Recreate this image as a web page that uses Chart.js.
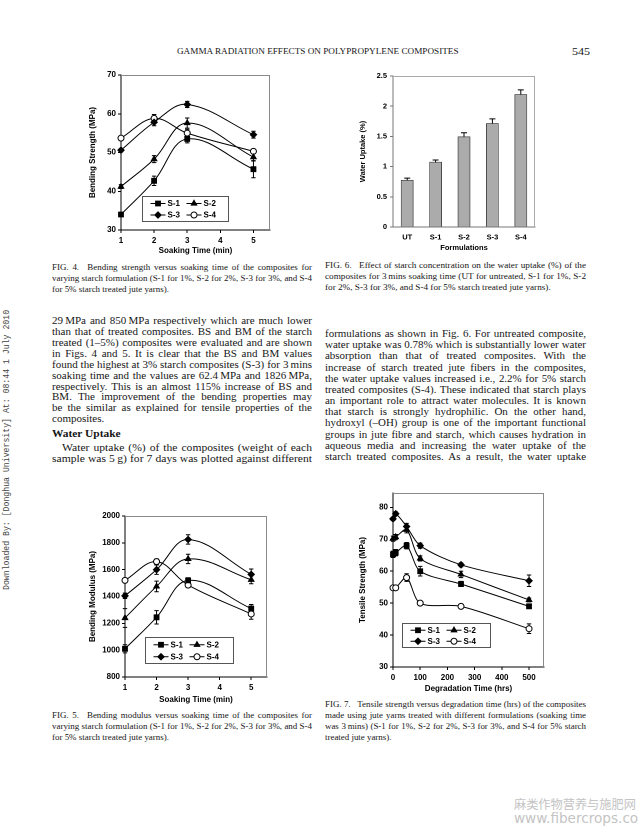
<!DOCTYPE html>
<html><head><meta charset="utf-8">
<script src="https://cdn.jsdelivr.net/npm/chart.js@4.4.0/dist/chart.umd.min.js"></script>
<style>
html,body{margin:0;padding:0;background:#fff;}
body{width:639px;height:828px;position:relative;overflow:hidden;color:#161616;font-family:"Liberation Serif","Times New Roman",serif;}
canvas{position:absolute;}
.abs{position:absolute;white-space:nowrap;}
</style></head><body>
<script>
// ---------------- DATA ----------------
const seriesNames = ['S-1', 'S-2', 'S-3', 'S-4'];
const soakTimes = [1, 2, 3, 5];
// Fig. 4 bending strength (MPa)
const bsS1 = [34.0, 42.7, 53.5, 45.7], bsS1Err = [0.5, 1.2, 1.0, 2.2];
const bsS2 = [41.2, 48.3, 57.6, 48.8], bsS2Err = [0.5, 0.9, 1.3, 1.0];
const bsS3 = [50.6, 57.8, 62.4, 54.6], bsS3Err = [0.4, 0.9, 0.8, 0.9];
const bsS4 = [53.7, 58.8, 55.0, 50.3], bsS4Err = [0.4, 1.0, 1.0, 0.6];
// Fig. 5 bending modulus (MPa)
const bmS1 = [1010, 1245, 1520, 1310], bmS1Err = [30, 50, 20, 30];
const bmS2 = [1240, 1475, 1680, 1525], bmS2Err = [70, 40, 35, 30];
const bmS3 = [1405, 1600, 1825, 1565], bmS3Err = [20, 35, 35, 40];
const bmS4 = [1520, 1660, 1485, 1270], bmS4Err = [10, 20, 15, 40];
// Fig. 6 water uptake (%)
const formulations = ['UT', 'S-1', 'S-2', 'S-3', 'S-4'];
const waterUptake = [0.78, 1.08, 1.50, 1.72, 2.20];
const waterUptakeErr = [0.03, 0.03, 0.06, 0.07, 0.07];
// Fig. 7 tensile strength (MPa)
const degTimes = [0, 10, 50, 100, 250, 500];
const tsS1 = [65.3, 65.8, 68.0, 60.0, 56.0, 49.0], tsS1Err = [1.0, 1.0, 1.0, 1.5, 0.8, 0.5];
const tsS2 = [70.2, 70.7, 73.0, 64.0, 59.0, 51.0], tsS2Err = [0.8, 0.8, 1.0, 0.8, 1.0, 0.6];
const tsS3 = [76.4, 78.0, 74.0, 68.0, 62.0, 57.0], tsS3Err = [0.5, 0.6, 1.0, 0.8, 0.6, 1.8];
const tsS4 = [54.8, 54.8, 58.0, 50.0, 49.0, 42.0], tsS4Err = [0.5, 0.5, 1.2, 0.6, 0.5, 1.5];
// tick values
const bsTicks = [30, 40, 50, 60, 70];
const bmTicks = [800, 1000, 1200, 1400, 1600, 1800, 2000];
const soakTicks = [1, 2, 3, 4, 5];
const wuTicks = [0, 0.5, 1, 1.5, 2, 2.5];
const tsTicks = [30, 40, 50, 60, 70, 80];
const degTicks = [0, 100, 200, 300, 400, 500];

// ---------------- TEXT ----------------
const SERIF = '"Liberation Serif","Times New Roman",serif';
const mctx = document.createElement('canvas').getContext('2d');
function textW(t, size, weight) { mctx.font = (weight || 'normal') + ' ' + size + 'px ' + SERIF; return mctx.measureText(t).width; }

// lines are set at a fixed glyph height and stretched horizontally to the column (scanned page aspect)
function placeLines(lines, o) {
  const size = o.size;
  let maxRatio = 0;
  lines.forEach((l, i) => {
    if (o.lastLeft && i === lines.length - 1) return;
    const ind = (i === 0 && o.indent ? o.indent : 0);
    maxRatio = Math.max(maxRatio, textW(l, size, o.weight) / (o.width - ind));
  });
  const sx = 1 / maxRatio * 0.995;
  lines.forEach((l, i) => {
    const ind = (i === 0 && o.indent) ? o.indent : 0;
    const d = document.createElement('div');
    d.textContent = l;
    const lh = size * 1.2;
    const last = o.lastLeft && i === lines.length - 1;
    d.style.cssText = 'position:absolute;left:' + (o.x + ind) + 'px;top:' + (o.y0 + i * o.dy - lh / 2) + 'px;width:' + ((o.width - ind) / sx) + 'px;font-size:' + size + 'px;line-height:' + lh + 'px;font-weight:' + (o.weight || 'normal') + ';text-align:justify;text-align-last:' + (last ? 'left' : 'justify') + ';transform-origin:0 50%;transform:scaleX(' + sx + ');';
    document.body.appendChild(d);
  });
}
function placeText(t, x, y, size, opts) {
  opts = opts || {};
  const d = document.createElement('div');
  d.className = 'abs';
  d.textContent = t;
  const lh = size * 1.2;
  d.style.left = x + 'px'; d.style.top = (y - lh / 2) + 'px';
  d.style.fontSize = size + 'px'; d.style.lineHeight = lh + 'px';
  if (opts.weight) d.style.fontWeight = opts.weight;
  if (opts.family) d.style.fontFamily = opts.family;
  if (opts.color) d.style.color = opts.color;
  if (opts.sx) { d.style.transformOrigin = '0 50%'; d.style.transform = 'scaleX(' + opts.sx + ')'; }
  document.body.appendChild(d);
  return d;
}

// header
(function () {
  const t = 'GAMMA RADIATION EFFECTS ON POLYPROPYLENE COMPOSITES';
  placeText(t, 177, 51.5, 8.6, {sx: 282 / textW(t, 8.6)});
  placeText('545', 572, 51.5, 11, {sx: 1.1});
})();

const CAP = 8.0, BODY = 9.7;
placeLines(['FIG. 4.\u2002 Bending strength versus soaking time of the composites for',
  'varying starch formulation (S-1 for 1%, S-2 for 2%, S-3 for 3%, and S-4',
  'for 5% starch treated jute yarns).'], {x: 52, y0: 267.5, dy: 11, width: 260, size: CAP, lastLeft: true});
placeLines(['FIG. 6.\u2002 Effect of starch concentration on the water uptake (%) of the',
  'composites for 3\u2009mins soaking time (UT for untreated, S-1 for 1%, S-2',
  'for 2%, S-3 for 3%, and S-4 for 5% starch treated jute yarns).'], {x: 325, y0: 266, dy: 11, width: 261, size: CAP, lastLeft: true});
placeLines(['FIG. 5.\u2002 Bending modulus versus soaking time of the composites for',
  'varying starch formulation (S-1 for 1%, S-2 for 2%, S-3 for 3%, and S-4',
  'for 5% starch treated jute yarns).'], {x: 52, y0: 716, dy: 11, width: 260, size: CAP, lastLeft: true});
placeLines(['FIG. 7.\u2002 Tensile strength versus degradation time (hrs) of the composites',
  'made using jute yarns treated with different formulations (soaking time',
  'was 3\u2009mins) (S-1 for 1%, S-2 for 2%, S-3 for 3%, and S-4 for 5% starch',
  'treated jute yarns).'], {x: 325, y0: 705, dy: 11, width: 261, size: CAP, lastLeft: true});

placeLines(['29\u2009MPa and 850\u2009MPa respectively which are much lower',
  'than that of treated composites. BS and BM of the starch',
  'treated (1\u20135%) composites were evaluated and are shown',
  'in Figs. 4 and 5. It is clear that the BS and BM values',
  'found the highest at 3% starch composites (S-3) for 3\u2009mins',
  'soaking time and the values are 62.4\u2009MPa and 1826\u2009MPa,',
  'respectively. This is an almost 115% increase of BS and',
  'BM. The improvement of the bending properties may',
  'be the similar as explained for tensile properties of the',
  'composites.'], {x: 52, y0: 321, dy: 10.9, width: 260, size: BODY, lastLeft: true});
placeText('Water Uptake', 52, 434.5, 10.2, {weight: 'bold', sx: 1.12});
placeLines(['Water uptake (%) of the composites (weight of each',
  'sample was 5\u2009g) for 7 days was plotted against different'], {x: 52, y0: 448, dy: 11, width: 260, size: BODY, indent: 10});
placeLines(['formulations as shown in Fig. 6. For untreated composite,',
  'water uptake was 0.78% which is substantially lower water',
  'absorption than that of treated composites. With the',
  'increase of starch treated jute fibers in the composites,',
  'the water uptake values increased i.e., 2.2% for 5% starch',
  'treated composites (S-4). These indicated that starch plays',
  'an important role to attract water molecules. It is known',
  'that starch is strongly hydrophilic. On the other hand,',
  'hydroxyl (\u2013OH) group is one of the important functional',
  'groups in jute fibre and starch, which causes hydration in',
  'aqueous media and increasing the water uptake of the',
  'starch treated composites. As a result, the water uptake'], {x: 325, y0: 334, dy: 11.15, width: 261, size: BODY});

// side stamp
(function () {
  const d = document.createElement('div');
  d.className = 'abs';
  d.textContent = 'Downloaded By: [Donghua University] At: 08:44 1 July 2010';
  d.style.cssText += 'font-family:"Liberation Mono","DejaVu Sans Mono",monospace;font-size:8.2px;line-height:10px;color:#444;left:2px;top:590px;transform-origin:0 0;transform:rotate(-90deg);';
  document.body.appendChild(d);
})();
// watermark
placeText('\u9EBB\u7C7B\u4F5C\u7269\u8425\u517B\u4E0E\u65BD\u80A5\u7F51', 514, 804, 12.2, {family: '"Noto Sans CJK SC",sans-serif', color: '#c4c4c4'});
placeText('www.fibercrops.com', 514, 818, 13.6, {family: '"DejaVu Sans",sans-serif', color: '#c4c4c4'});

// ---------------- CHARTS ----------------
const SANS = '"Liberation Sans", Arial, sans-serif';
const f8 = {family: SANS, size: 8, weight: 'bold'};
const f75 = {family: SANS, size: 7.5, weight: 'bold'};
const plainNum = v => String(v);

const errorBars = {
  id: 'errorBars',
  beforeDatasetsDraw(chart) {
    const ctx = chart.ctx, ys = chart.scales.y;
    chart.data.datasets.forEach((ds, i) => {
      if (!ds.errors) return;
      const meta = chart.getDatasetMeta(i);
      meta.data.forEach((el, j) => {
        const raw = ds.data[j];
        const v = (typeof raw === 'object') ? raw.y : raw;
        const e = ds.errors[j];
        if (!e) return;
        const yt = ys.getPixelForValue(v + e), yb = ys.getPixelForValue(v - e);
        const x = el.x, cw = ds.capWidth || 2.2;
        ctx.save();
        ctx.strokeStyle = '#000'; ctx.lineWidth = 1;
        ctx.beginPath();
        ctx.moveTo(x, yt); ctx.lineTo(x, yb);
        ctx.moveTo(x - cw, yt); ctx.lineTo(x + cw, yt);
        ctx.moveTo(x - cw, yb); ctx.lineTo(x + cw, yb);
        ctx.stroke();
        ctx.restore();
      });
    });
  }
};
const frameBox = {
  id: 'frameBox',
  beforeDatasetsDraw(chart, args, opts) {
    const a = chart.chartArea, ctx = chart.ctx;
    ctx.save();
    ctx.strokeStyle = (opts && opts.color) || '#888';
    ctx.lineWidth = 1;
    ctx.beginPath();
    ctx.moveTo(a.left, a.top + 0.5); ctx.lineTo(a.right - 0.5, a.top + 0.5); ctx.lineTo(a.right - 0.5, a.bottom);
    ctx.stroke();
    ctx.restore();
  }
};
const insideLegend = {
  id: 'insideLegend',
  afterDatasetsDraw(chart, args, opts) {
    if (!opts || !opts.box) return;
    const a = chart.chartArea, ctx = chart.ctx;
    const W = a.right - a.left, H = a.bottom - a.top;
    const x0 = Math.round(a.left + opts.box[0] * W) + 0.5, y0 = Math.round(a.top + opts.box[1] * H) + 0.5;
    const x1 = Math.round(a.left + opts.box[2] * W) + 0.5, y1 = Math.round(a.top + opts.box[3] * H) + 0.5;
    ctx.save();
    ctx.fillStyle = '#fff'; ctx.fillRect(x0, y0, x1 - x0, y1 - y0);
    ctx.strokeStyle = '#555'; ctx.lineWidth = 1; ctx.strokeRect(x0, y0, x1 - x0, y1 - y0);
    const h = y1 - y0;
    chart.data.datasets.forEach((ds, i) => {
      const col = i % 2, row = Math.floor(i / 2);
      const lx = x0 + 8 + col * 36, ly = y0 + h * (0.28 + row * 0.46);
      ctx.strokeStyle = '#000'; ctx.lineWidth = 1;
      ctx.beginPath(); ctx.moveTo(lx, ly); ctx.lineTo(lx + 15, ly); ctx.stroke();
      ctx.fillStyle = ds.pointBackgroundColor; ctx.strokeStyle = '#000';
      Chart.helpers.drawPoint(ctx, {pointStyle: ds.pointStyle, radius: ds.pointRadius, borderWidth: 1, rotation: 0}, lx + 7.5, ly);
      ctx.fillStyle = '#000'; ctx.font = 'bold 8px ' + SANS; ctx.textBaseline = 'middle'; ctx.textAlign = 'left';
      ctx.fillText(ds.label, lx + 17, ly + 0.5);
    });
    ctx.restore();
  }
};

function onlyTicks(list) {
  return s => { s.ticks = list.map(v => ({value: v})); };
}

function makeChart(id, pos, config) {
  const c = document.createElement('canvas');
  c.id = id;
  c.width = pos.cw; c.height = pos.ch;
  c.style.left = pos.cx + 'px'; c.style.top = pos.cy + 'px';
  c.style.width = pos.cw + 'px'; c.style.height = pos.ch + 'px';
  document.body.appendChild(c);
  const lh = (pos.font || 8) * 1.2;
  const yw = pos.L - pos.cx, xh = pos.hx;
  const sc = config.options.scales;
  sc.x.afterFit = s => { s.height = xh; s.paddingLeft = 0; s.paddingRight = 0; s.paddingTop = 0; s.paddingBottom = 0; };
  sc.y.afterFit = s => { s.width = yw; s.paddingLeft = 0; s.paddingRight = 0; s.paddingTop = 0; s.paddingBottom = 0; };
  sc.y.title.padding = {top: pos.ytx - pos.cx - lh / 2, bottom: 0};
  sc.x.title.padding = {top: 0, bottom: (pos.B + xh) - pos.xty - lh / 2};
  config.options.layout = {padding: {left: 0, top: pos.T - pos.cy, right: pos.cx + pos.cw - pos.R, bottom: pos.cy + pos.ch - pos.B - xh}};
  config.options.responsive = false;
  config.options.animation = false;
  config.options.devicePixelRatio = 2;
  config.options.plugins = Object.assign({legend: {display: false}, tooltip: {enabled: false}}, config.options.plugins || {});
  return new Chart(c, config);
}

function gridCfg(color, tl) {
  return {display: true, drawOnChartArea: false, drawTicks: true, tickLength: tl, color: color, lineWidth: 1};
}

const styles = [
  {pointStyle: 'rect', pointRadius: 3.4, bg: '#000'},
  {pointStyle: 'triangle', pointRadius: 3.2, bg: '#000'},
  {pointStyle: 'rectRot', pointRadius: 3.2, bg: '#000'},
  {pointStyle: 'circle', pointRadius: 3.0, bg: '#fff'}
];
function lineSets(xs, ys, errs, tension) {
  return ys.map((arr, i) => ({
    label: seriesNames[i],
    data: arr.map((v, j) => ({x: xs[j], y: v})),
    errors: errs[i],
    borderColor: '#000', borderWidth: 1,
    pointStyle: styles[i].pointStyle, pointRadius: styles[i].pointRadius,
    pointBackgroundColor: styles[i].bg, pointBorderColor: '#000', pointBorderWidth: 1,
    tension: tension, clip: false, fill: false
  }));
}

function soakChart(id, pos, ys, errs, yMin, yMax, yTicks, yTitle, legendBox) {
  return makeChart(id, pos, {
    type: 'line',
    data: {datasets: lineSets(soakTimes, ys, errs, 0.38)},
    options: {
      scales: {
        x: {type: 'linear', min: 1, max: 5.5, afterBuildTicks: onlyTicks(soakTicks),
          grid: gridCfg('#000', 3), border: {display: true, color: '#000', width: 1},
          ticks: {font: f8, color: '#000', padding: 3, maxRotation: 0, callback: plainNum},
          title: {display: true, text: 'Soaking Time (min)', font: f8, color: '#000'}},
        y: {type: 'linear', min: yMin, max: yMax, afterBuildTicks: onlyTicks(yTicks),
          grid: gridCfg('#000', 3), border: {display: true, color: '#000', width: 1},
          ticks: {font: f8, color: '#000', padding: 2, callback: plainNum},
          title: {display: true, text: yTitle, font: f8, color: '#000'}}
      },
      plugins: {insideLegend: {box: legendBox}, frameBox: {color: '#8a8a8a'}}
    },
    plugins: [frameBox, errorBars, insideLegend]
  });
}

soakChart('fig4', {cx: 56, cy: 62, cw: 224, ch: 200, L: 121, T: 75, R: 270, B: 230, hx: 28, ytx: 93, xty: 251},
  [bsS1, bsS2, bsS3, bsS4], [bsS1Err, bsS2Err, bsS3Err, bsS4Err], 30, 70, bsTicks, 'Bending Strength (MPa)',
  [0.14, 0.78, 0.72, 0.94]);

soakChart('fig5', {cx: 56, cy: 500, cw: 224, ch: 208, L: 125, T: 516, R: 267, B: 677, hx: 28, ytx: 93, xty: 700},
  [bmS1, bmS2, bmS3, bmS4], [bmS1Err, bmS2Err, bmS3Err, bmS4Err], 800, 2000, bmTicks, 'Bending Modulus (MPa)',
  [0.14, 0.75, 0.76, 0.91]);

// Fig. 6 bars
makeChart('fig6', {cx: 338, cy: 60, cw: 212, ch: 198, L: 393, T: 76, R: 535, B: 227, hx: 27, ytx: 363, xty: 248, font: 7.5}, {
  type: 'bar',
  data: {labels: formulations, datasets: [{
    data: waterUptake, errors: waterUptakeErr, capWidth: 3,
    backgroundColor: '#ababab', borderColor: '#4a4a4a', borderWidth: 1,
    barPercentage: 0.45, categoryPercentage: 1.0
  }]},
  options: {
    scales: {
      x: {grid: {display: false, drawTicks: false}, border: {display: true, color: '#777', width: 1},
        ticks: {font: f75, color: '#000', padding: 6, maxRotation: 0},
        title: {display: true, text: 'Formulations', font: f75, color: '#000'}},
      y: {min: 0, max: 2.5, afterBuildTicks: onlyTicks(wuTicks),
        grid: gridCfg('#777', 3), border: {display: true, color: '#777', width: 1},
        ticks: {font: f75, color: '#000', padding: 3, callback: plainNum},
        title: {display: true, text: 'Water Uptake (%)', font: f75, color: '#000'}}
    },
    plugins: {frameBox: {color: '#aaa'}}
  },
  plugins: [frameBox, errorBars]
});

// Fig. 7
makeChart('fig7', {cx: 338, cy: 480, cw: 218, ch: 220, L: 393, T: 493, R: 544, B: 667, hx: 28, ytx: 363, xty: 689}, {
  type: 'line',
  data: {datasets: lineSets(degTimes, [tsS1, tsS2, tsS3, tsS4], [tsS1Err, tsS2Err, tsS3Err, tsS4Err], 0.3)},
  options: {
    scales: {
      x: {type: 'linear', min: 0, max: 555, afterBuildTicks: onlyTicks(degTicks),
        grid: gridCfg('#000', 3), border: {display: true, color: '#000', width: 1},
        ticks: {font: f8, color: '#000', padding: 3, maxRotation: 0, callback: plainNum},
        title: {display: true, text: 'Degradation Time (hrs)', font: f8, color: '#000'}},
      y: {type: 'linear', min: 30, max: 84.5, afterBuildTicks: onlyTicks(tsTicks),
        grid: gridCfg('#000', 3), border: {display: true, color: '#000', width: 1},
        ticks: {font: f8, color: '#000', padding: 2, callback: plainNum},
        title: {display: true, text: 'Tensile Strength (MPa)', font: f8, color: '#000'}}
    },
    plugins: {insideLegend: {box: [0.06, 0.745, 0.64, 0.885]}, frameBox: {color: '#8a8a8a'}}
  },
  plugins: [frameBox, errorBars, insideLegend]
});
</script>
</body></html>
